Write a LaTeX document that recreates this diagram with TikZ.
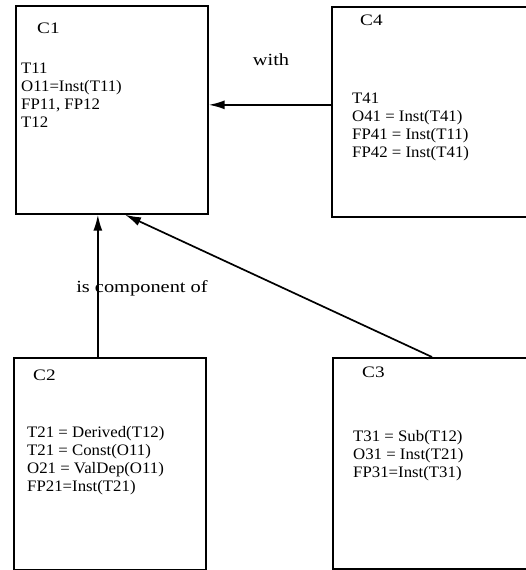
\documentclass[tikz,border=0pt]{standalone}
\usepackage{fontspec}
\setmainfont{Liberation Serif}
\newfontfamily\scanfont{Liberation Serif}[FakeStretch=1.05]
\newfontfamily\labelfont{Liberation Serif}[FakeStretch=1.2]
\usepackage{tikz}
\usetikzlibrary{positioning,arrows.meta}
\tikzset{classbox/.style={draw,line width=1.7pt,anchor=north west,inner sep=0pt}}
\tikzset{classname/.style={inner sep=0pt,font=\labelfont\fontsize{16}{18}\selectfont}}
\tikzset{classbody/.style={inner sep=0pt,align=left,font=\scanfont\fontsize{16}{18}\selectfont}}
\tikzset{rel/.style={line width=1.7pt,-{Latex[length=16pt,width=9pt]}}}
\tikzset{rellabel/.style={inner sep=0pt,font=\labelfont\fontsize{17}{19}\selectfont}}

\begin{document}
\begin{tikzpicture}[x=1pt,y=-1pt]
    \clip (0,0) rectangle (526,570);
    % classes
    \node[classbox,minimum width=192pt,minimum height=208pt] (c1) at (15,5) {};
    \node[classbox,minimum width=240pt,minimum height=210pt] (c4) at (331,6) {};
    \node[classbox,minimum width=192pt,minimum height=212pt] (c2) at (13,357) {};
    \node[classbox,minimum width=240pt,minimum height=211pt] (c3) at (332,357) {};
    % names and contents
    \node[classname,below right=18pt and 22pt of c1.north west] (c1n) {C1};
    \node[classbody,below right=58pt and 6pt of c1.north west] (c1b) {T11\\O11=Inst(T11)\\FP11, FP12\\T12};
    \node[classname,below right=9pt and 29pt of c4.north west] (c4n) {C4};
    \node[classbody,below right=86.5pt and 21pt of c4.north west] (c4b) {T41\\O41 = Inst(T41)\\FP41 = Inst(T11)\\FP42 = Inst(T41)};
    \node[classname,below right=13pt and 20pt of c2.north west] (c2n) {C2};
    \node[classbody,below right=69.5pt and 14pt of c2.north west] (c2b) {T21 = Derived(T12)\\T21 = Const(O11)\\O21 = ValDep(O11)\\FP21=Inst(T21)};
    \node[classname,below right=10pt and 30pt of c3.north west] (c3n) {C3};
    \node[classbody,below right=73.5pt and 21pt of c3.north west] (c3b) {T31 = Sub(T12)\\O31 = Inst(T21)\\FP31=Inst(T31)};
    % relations
    \coordinate (w) at ([yshift=7pt]c4.west);
    \draw[rel] (w) -- (w -| c1.east);
    \coordinate (p) at ([xshift=-12pt]c2.north);
    \draw[rel] (p) -- (p |- c1.south);
    \coordinate (s) at ([xshift=100pt]c3.north west);
    \coordinate (t) at ([xshift=110pt]c1.south west);
    \draw[rel] (s) -- (t);
    \node[rellabel] (with) at (271,60) {with};
    \node[rellabel] (comp) at (142,288) {is component of};
\end{tikzpicture}
\end{document}
